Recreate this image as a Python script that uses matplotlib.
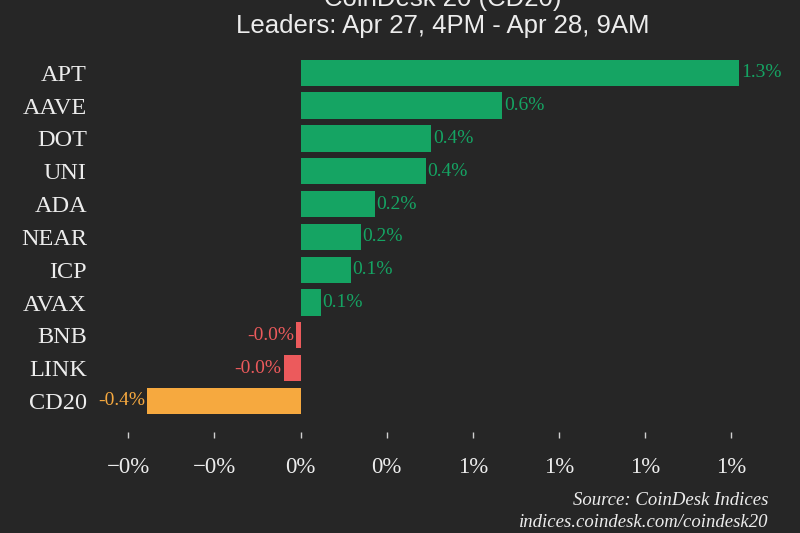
import matplotlib
matplotlib.use("Agg")
import matplotlib.pyplot as plt

# Data
categories = ["APT", "AAVE", "DOT", "UNI", "ADA", "NEAR", "ICP", "AVAX", "BNB", "LINK", "CD20"]
values = [1.273, 0.584, 0.378, 0.363, 0.215, 0.174, 0.145, 0.058, -0.012, -0.049, -0.445]
value_labels = ["1.3%", "0.6%", "0.4%", "0.4%", "0.2%", "0.2%", "0.1%", "0.1%", "-0.0%", "-0.0%", "-0.4%"]
xticks = [-0.5, -0.25, 0, 0.25, 0.5, 0.75, 1.0, 1.25]
xtick_labels = ["\u22120%", "\u22120%", "0%", "0%", "1%", "1%", "1%", "1%"]
title_lines = ["CoinDesk 20 (CD20)", "Leaders: Apr 27, 4PM - Apr 28, 9AM"]
source_lines = ["Source: CoinDesk Indices", "indices.coindesk.com/coindesk20"]

BG = "#262626"
GREEN = "#15a463"
RED = "#ec5a5c"
ORANGE = "#f6a93f"
TEXT = "#ececec"

serif = ["Liberation Serif", "DejaVu Serif"]
sans = ["Liberation Sans", "DejaVu Sans"]

fig = plt.figure(figsize=(8, 5.33), dpi=100, facecolor=BG)
ax = fig.add_axes([0.1173, 0.1895, 0.8398, 0.711], facecolor=BG)

def color_for(cat, v):
    if cat == "CD20":
        return ORANGE
    return GREEN if v >= 0 else RED

ypos = list(range(len(categories)))
colors = [color_for(c, v) for c, v in zip(categories, values)]
ax.barh(ypos, values, height=0.8, color=colors, edgecolor="none")

for y, v, lab, col in zip(ypos, values, value_labels, colors):
    if v >= 0:
        ax.annotate(lab, (v, y), xytext=(1.5, 0), textcoords="offset points",
                    ha="left", va="center", color=col, fontsize=14, family=serif)
    else:
        ax.annotate(lab, (v, y), xytext=(-1.5, 0), textcoords="offset points",
                    ha="right", va="center", color=col, fontsize=14, family=serif)

ax.set_xlim(-0.6, 1.35)
ax.set_ylim(len(categories) - 1 + 0.945, -0.6)
ax.set_yticks(ypos)
ax.set_yticklabels(categories, family=serif, fontsize=17.5, color=TEXT)
ax.set_xticks(xticks)
ax.set_xticklabels(xtick_labels, family=serif, fontsize=16.5, color=TEXT)
ax.tick_params(axis="y", length=0, pad=5)
ax.tick_params(axis="x", length=4, width=1, color="#d0d0d0", pad=14, direction="out")
for s in ax.spines.values():
    s.set_visible(False)

fig.text(0.554, 1 - 6 / 533, title_lines[0], ha="center", va="baseline",
         fontsize=18.5, color=TEXT, family=sans)
fig.text(0.554, 1 - 33 / 533, title_lines[1], ha="center", va="baseline",
         fontsize=18.5, color=TEXT, family=sans)

fig.text(768 / 800, 1 - 505 / 533, source_lines[0], ha="right", va="baseline",
         fontsize=13.5, color=TEXT, family=serif, style="italic")
fig.text(768 / 800, 1 - 527 / 533, source_lines[1], ha="right", va="baseline",
         fontsize=13.5, color=TEXT, family=serif, style="italic")

fig.savefig("out.png", dpi=100, facecolor=BG)
